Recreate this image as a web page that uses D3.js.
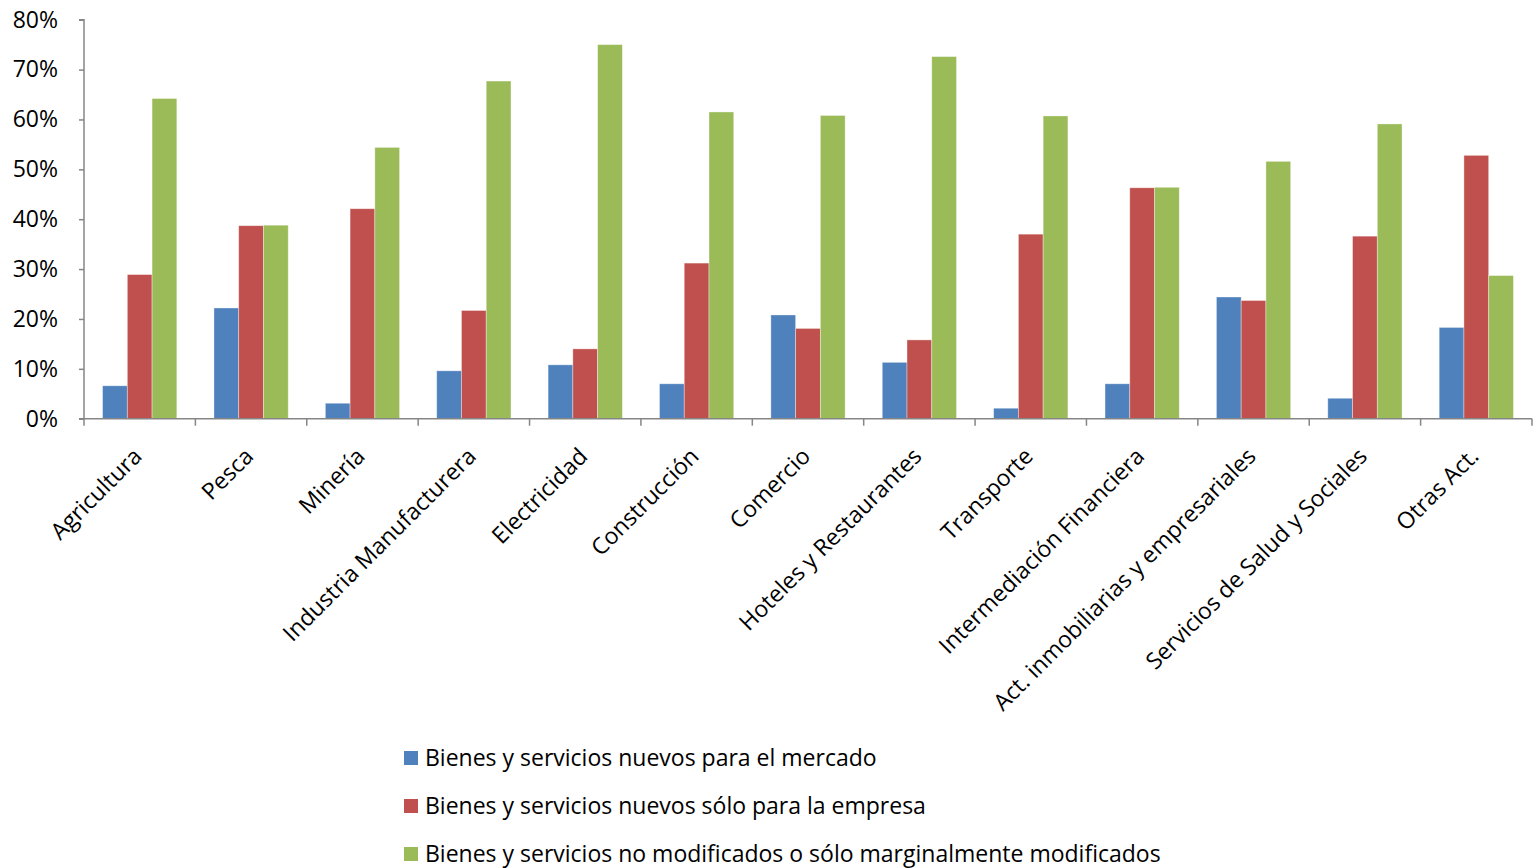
<!DOCTYPE html>
<html><head><meta charset="utf-8">
<script src="https://cdn.jsdelivr.net/npm/d3@7"></script>
<style>html,body{margin:0;padding:0;background:#fff;}svg{display:block;}</style>
</head><body>
<script>
const categories = ["Agricultura","Pesca","Minería","Industria Manufacturera","Electricidad","Construcción","Comercio","Hoteles y Restaurantes","Transporte","Intermediación Financiera","Act. inmobiliarias y empresariales","Servicios de Salud y Sociales","Otras Act."];
const seriesNames = ["Bienes y servicios nuevos para el mercado","Bienes y servicios nuevos sólo para la empresa","Bienes y servicios no modificados o sólo marginalmente modificados"];
const nuevosMercado = [6.6,22.2,3.1,9.6,10.8,7.0,20.8,11.3,2.1,7.0,24.4,4.1,18.3];
const nuevosEmpresa = [28.9,38.7,42.1,21.7,14.0,31.2,18.1,15.8,37.0,46.3,23.7,36.6,52.8];
const noModificados = [64.2,38.8,54.4,67.7,75.0,61.5,60.8,72.6,60.7,46.4,51.6,59.1,28.7];
const yTicks = [0,10,20,30,40,50,60,70,80];
const colors = ["#4F81BD","#C0504D","#9BBB59"];

(function(){
const W = 1533, H = 868;
const pL = 84, pR = 1532, pT = 19.7, pB = 418.7;
const font = "'Open Sans', sans-serif";
const fs = 23;
const svg = d3.select("body").append("svg").attr("width", W).attr("height", H);

const x = d3.scaleBand().domain(categories).range([pL, pR]).paddingInner(0).paddingOuter(0);
const bw = x.bandwidth() / 4.5; // gap width 150%
const xs = d3.scaleBand().domain([0,1,2]).range([0.75*bw, 3.75*bw]).padding(0);
const y = d3.scaleLinear().domain([0,80]).range([pB, pT]);

const series = [nuevosMercado, nuevosEmpresa, noModificados];

series.forEach((vals, si) => {
  svg.append("g").selectAll("rect").data(vals).join("rect")
    .attr("x", (d,i) => x(categories[i]) + xs(si))
    .attr("y", d => y(d))
    .attr("width", xs.bandwidth())
    .attr("height", d => y(0) - y(d))
    .attr("fill", colors[si])
    .attr("stroke", "rgba(255,255,255,0.45)")
    .attr("stroke-width", 0.8);
});

const yAxis = d3.axisLeft(y).tickValues(yTicks).tickFormat(d => d + "%").tickSize(5).tickPadding(6);
const gy = svg.append("g").attr("transform", `translate(${pL},0)`).call(yAxis);
gy.select(".domain").attr("stroke", "#868686").attr("stroke-width", 1.5).attr("d", `M-5,${pT}H0V${pB}H-5`);
gy.selectAll(".tick line").attr("stroke", "#868686").attr("stroke-width", 1.5);
gy.selectAll(".tick text").attr("font-family", font).attr("font-size", fs).attr("fill", "#000").attr("x", -26);

const boundaries = categories.map(c => x(c)).concat([pR]);
svg.append("line").attr("x1", pL).attr("x2", pR).attr("y1", pB).attr("y2", pB)
  .attr("stroke", "#868686").attr("stroke-width", 1.5);
svg.append("g").selectAll("line").data(boundaries).join("line")
  .attr("x1", d => d).attr("x2", d => d).attr("y1", pB).attr("y2", pB + 7)
  .attr("stroke", "#868686").attr("stroke-width", 1.5);

svg.append("g").selectAll("text").data(categories).join("text")
  .attr("transform", d => `translate(${x(d) + x.bandwidth()/2 - 2},452) rotate(-45)`)
  .attr("text-anchor", "end").attr("dy", "0.35em")
  .attr("font-family", font).attr("font-size", fs).attr("fill", "#000")
  .text(d => d);

const lg = svg.append("g").selectAll("g").data(seriesNames).join("g")
  .attr("transform", (d,i) => `translate(404,${758 + i*48})`);
lg.append("rect").attr("x", 0).attr("y", -7).attr("width", 14).attr("height", 14).attr("fill", (d,i) => colors[i]);
lg.append("text").attr("x", 21).attr("dy", "0.35em").attr("font-family", font).attr("font-size", fs).attr("fill", "#000").text(d => d);
})();
</script>
</body></html>
